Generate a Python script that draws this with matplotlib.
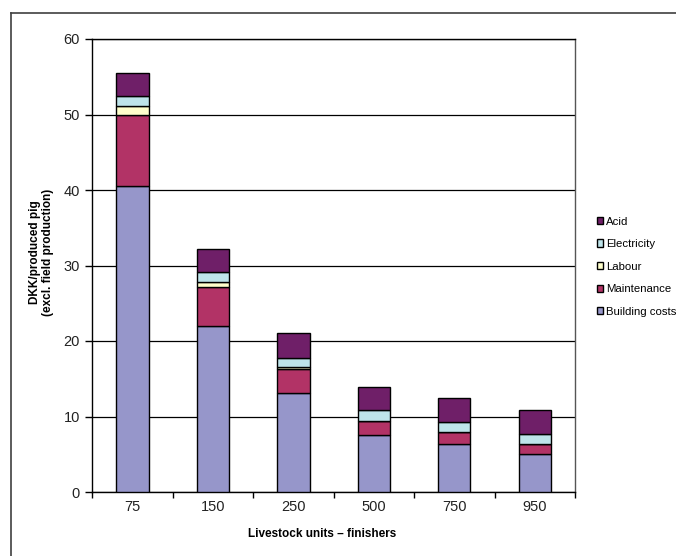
import numpy as np
import matplotlib
matplotlib.use("Agg")
import matplotlib.pyplot as plt
from matplotlib.lines import Line2D

plt.rcParams['font.family'] = ['Liberation Sans Narrow', 'Liberation Sans', 'DejaVu Sans']

# data
categories = ["75", "150", "250", "500", "750", "950"]
building = [40.5, 22.0, 13.15, 7.6, 6.4, 5.0]
maintenance = [9.4, 5.15, 3.15, 1.75, 1.5, 1.3]
labour = [1.2, 0.65, 0.3, 0.1, 0.05, 0.05]
electricity = [1.3, 1.3, 1.2, 1.35, 1.3, 1.3]
acid = [3.1, 3.1, 3.2, 3.1, 3.15, 3.2]

series = [
    ("Building costs", building, "#9696CA"),
    ("Maintenance", maintenance, "#B23366"),
    ("Labour", labour, "#FFFFCC"),
    ("Electricity", electricity, "#BEE4EA"),
    ("Acid", acid, "#6F1F68"),
]

fig = plt.figure(figsize=(6.76, 5.56), dpi=100)
ax = fig.add_axes([92.3 / 676, 1 - 492 / 556, (575 - 92.3) / 676, (492 - 39) / 556])

# outer frame (left and top lines only, runs off the picture)
fig.add_artist(Line2D([11 / 676, 11 / 676], [0, 1 - 13 / 556], transform=fig.transFigure,
                      color="#404040", lw=1.2))
fig.add_artist(Line2D([11 / 676, 1], [1 - 13 / 556, 1 - 13 / 556], transform=fig.transFigure,
                      color="#404040", lw=1.2))

x = np.arange(len(categories))
bottom = np.zeros(len(categories))
handles = []
for name, vals, col in series:
    b = ax.bar(x, vals, width=0.4, bottom=bottom, color=col, edgecolor="black",
               linewidth=1.0, label=name, zorder=3)
    bottom += np.array(vals)
    handles.append(b)

ax.set_xlim(-0.5, len(categories) - 0.5)
ax.set_ylim(0, 60)
ax.set_yticks(np.arange(0, 61, 10))
ax.yaxis.grid(True, color="black", lw=0.9, zorder=0)
ax.tick_params(axis="y", direction="out", length=5, width=1, labelsize=10.5, pad=4,
               labelcolor="#222222")
ax.set_xticks(x)
ax.set_xticklabels(categories)
ax.set_xticks(np.arange(-0.5, len(categories), 1), minor=True)
ax.tick_params(axis="x", which="major", length=0, labelsize=10.5, pad=6, labelcolor="#222222")
ax.tick_params(axis="x", which="minor", direction="out", length=4, width=1)
for s in ax.spines.values():
    s.set_color("black")
    s.set_linewidth(1.0)
ax.spines["right"].set_color("#555555")

ax.set_xlabel("Livestock units \u2013 finishers", fontsize=8.5, fontweight="bold")
ax.xaxis.set_label_coords(0.476, -0.08)
ax.set_ylabel("DKK/produced pig\n(excl. field production)", fontsize=8.5, fontweight="bold",
              linespacing=1.05)
ax.yaxis.set_label_coords(-0.08, 0.53)

leg = ax.legend(handles[::-1], [s[0] for s in series][::-1], loc="upper left",
                bbox_to_anchor=(592 / 676, 1 - 212 / 556), bbox_transform=fig.transFigure,
                frameon=False, fontsize=8.2, handlelength=0.6, handleheight=0.6,
                handletextpad=0.25, labelspacing=1.1, borderaxespad=0)

fig.savefig("out.png", dpi=100)
